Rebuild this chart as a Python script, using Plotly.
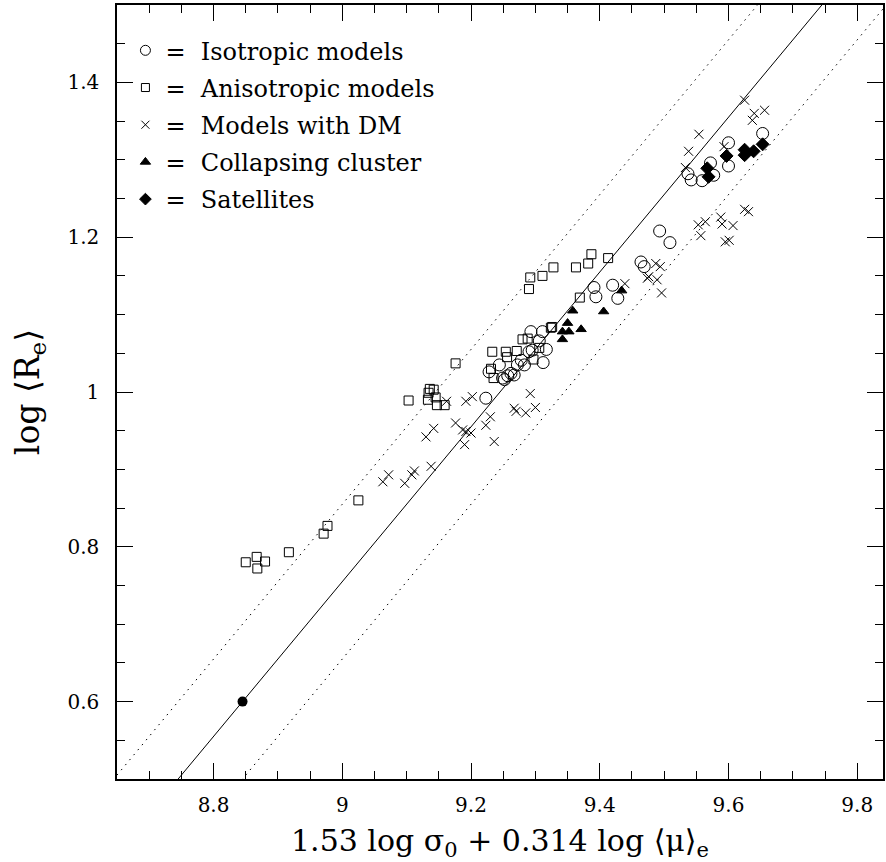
import plotly.graph_objects as go

# ---------------- data ----------------
iso_x = [9.223, 9.228, 9.244, 9.249, 9.252, 9.257, 9.262, 9.267, 9.272, 9.278,
         9.283, 9.293, 9.295, 9.306, 9.311, 9.312, 9.317, 9.290, 9.391, 9.394,
         9.420, 9.428, 9.464, 9.469, 9.493, 9.509, 9.537, 9.542, 9.559, 9.572,
         9.577, 9.600, 9.600, 9.653]
iso_y = [0.992, 1.026, 1.035, 1.018, 1.016, 1.021, 1.024, 1.022, 1.035, 1.041,
         1.035, 1.078, 1.054, 1.066, 1.078, 1.038, 1.055, 1.052, 1.135, 1.123,
         1.138, 1.121, 1.168, 1.162, 1.208, 1.193, 1.282, 1.274, 1.273, 1.296,
         1.280, 1.322, 1.292, 1.334]

aniso_x = [8.850, 8.867, 8.868, 8.880, 8.917, 8.971, 8.977, 9.025, 9.103, 9.133,
           9.134, 9.136, 9.142, 9.145, 9.147, 9.159, 9.176, 9.233, 9.254, 9.271,
           9.231, 9.235, 9.280, 9.288, 9.297, 9.306, 9.324, 9.326, 9.290, 9.292,
           9.311, 9.328, 9.363, 9.382, 9.387, 9.413, 9.369, 9.256]
aniso_y = [0.780, 0.787, 0.772, 0.781, 0.793, 0.817, 0.827, 0.860, 0.989, 0.990,
           0.999, 1.004, 1.003, 0.993, 0.983, 0.983, 1.037, 1.052, 1.052, 1.053,
           1.030, 1.018, 1.068, 1.069, 1.042, 1.057, 1.083, 1.084, 1.133, 1.148,
           1.150, 1.161, 1.161, 1.166, 1.178, 1.173, 1.122, 1.045]

dm_x = [9.625, 9.640, 9.656, 9.637, 9.554, 9.538, 9.533, 9.593, 9.553, 9.564,
        9.557, 9.588, 9.590, 9.607, 9.595, 9.601, 9.625, 9.631, 9.487, 9.494,
        9.476, 9.439, 9.474, 9.489, 9.496, 9.162, 9.192, 9.202, 9.176, 9.187,
        9.192, 9.200, 9.190, 9.223, 9.230, 9.236, 9.267, 9.270, 9.285, 9.300,
        9.292, 9.142, 9.130, 9.138, 9.112, 9.108, 9.097, 9.072, 9.063]
dm_y = [1.377, 1.360, 1.364, 1.351, 1.333, 1.311, 1.290, 1.317, 1.216, 1.220,
        1.202, 1.226, 1.217, 1.215, 1.194, 1.196, 1.236, 1.233, 1.166, 1.162,
        1.149, 1.140, 1.147, 1.145, 1.128, 0.988, 0.988, 0.994, 0.960, 0.951,
        0.949, 0.947, 0.932, 0.957, 0.968, 0.936, 0.979, 0.975, 0.973, 0.980,
        0.998, 0.953, 0.942, 0.904, 0.898, 0.893, 0.882, 0.893, 0.884]

coll_x = [9.358, 9.406, 9.350, 9.371, 9.342, 9.352, 9.342, 9.434]
coll_y = [1.105, 1.104, 1.089, 1.081, 1.078, 1.078, 1.068, 1.131]

sat_x = [9.567, 9.569, 9.597, 9.625, 9.625, 9.639, 9.653]
sat_y = [1.289, 1.278, 1.305, 1.313, 1.306, 1.311, 1.320]

ref_x = [8.845]
ref_y = [0.600]

# fitted relation and its scatter band
fit_slope = 1.0
fit_zero = -8.245
band = 0.1
x_range = [8.65, 9.84]
y_range = [0.5, 1.5]

legend_names = ["=\u00a0\u00a0Isotropic models", "=\u00a0\u00a0Anisotropic models",
                "=\u00a0\u00a0Models with DM", "=\u00a0\u00a0Collapsing cluster",
                "=\u00a0\u00a0Satellites"]

# ---------------- figure ----------------
fig = go.Figure()

lx = x_range
for off, dash in [(0.0, "solid"), (band, "1.5px,5px"), (-band, "1.5px,5px")]:
    fig.add_trace(go.Scatter(
        x=lx, y=[fit_slope * v + fit_zero + off for v in lx], mode="lines",
        line=dict(color="black", width=1, dash=dash), showlegend=False,
        hoverinfo="skip"))

series = [
    (iso_x, iso_y, "circle-open", 12, 10),
    (aniso_x, aniso_y, "square-open", 9, 8),
    (dm_x, dm_y, "x-thin-open", 9, 8),
    (coll_x, coll_y, "triangle-up", 9, 9),
    (sat_x, sat_y, "diamond", 10, 9),
]
for i, ((sx, sy, sym, size, lsize), name) in enumerate(zip(series, legend_names)):
    fig.add_trace(go.Scatter(
        x=sx, y=sy, mode="markers", showlegend=False, legendgroup=f"g{i}",
        marker=dict(symbol=sym, size=size, color="black",
                    line=dict(color="black", width=1))))
    fig.add_trace(go.Scatter(
        x=[None], y=[None], mode="markers", name=name, legendgroup=f"g{i}",
        marker=dict(symbol=sym, size=lsize, color="black",
                    line=dict(color="black", width=1))))

fig.add_trace(go.Scatter(x=ref_x, y=ref_y, mode="markers", showlegend=False,
                         marker=dict(symbol="circle", size=10, color="black")))

font_family = "DejaVu Serif, Liberation Serif, serif"

axis_common = dict(
    showgrid=False, zeroline=False, showline=True, mirror="ticks",
    linecolor="black", ticks="inside", ticklen=16, tickwidth=1,
    tickcolor="black", tickfont=dict(size=20, family=font_family, color="black"),
)

fig.update_xaxes(
    range=x_range, dtick=0.2, tick0=8.8, linewidth=2, ticklabelstandoff=7,
    minor=dict(dtick=0.05, ticks="inside", ticklen=8, tickcolor="black", showgrid=False),
    title=dict(text="1.53 log σ<sub>0</sub> + 0.314 log ⟨μ⟩<sub>e</sub>"
                    "\u00a0\u00a0\u00a0\u00a0",
               font=dict(size=30, family=font_family, color="black"), standoff=19),
    **axis_common)
fig.update_yaxes(
    range=y_range, dtick=0.2, tick0=0.6, linewidth=1.5, ticklabelstandoff=12,
    minor=dict(dtick=0.05, ticks="inside", ticklen=8, tickcolor="black", showgrid=False),
    title=dict(text="log ⟨R<sub>e</sub>⟩",
               font=dict(size=33, family=font_family, color="black"), standoff=18),
    **axis_common)

fig.update_layout(
    width=886, height=862,
    margin=dict(l=117, r=1, t=5, b=83),
    paper_bgcolor="white", plot_bgcolor="white",
    showlegend=True,
    legend=dict(x=0.011, y=0.970, xanchor="left", yanchor="top",
                bgcolor="rgba(0,0,0,0)", borderwidth=0,
                font=dict(size=24, family=font_family, color="black"),
                itemsizing="trace", tracegroupgap=3),
)

fig.write_html("out.html", post_script="document.body.style.margin='0';",
               config={"displayModeBar": False})
